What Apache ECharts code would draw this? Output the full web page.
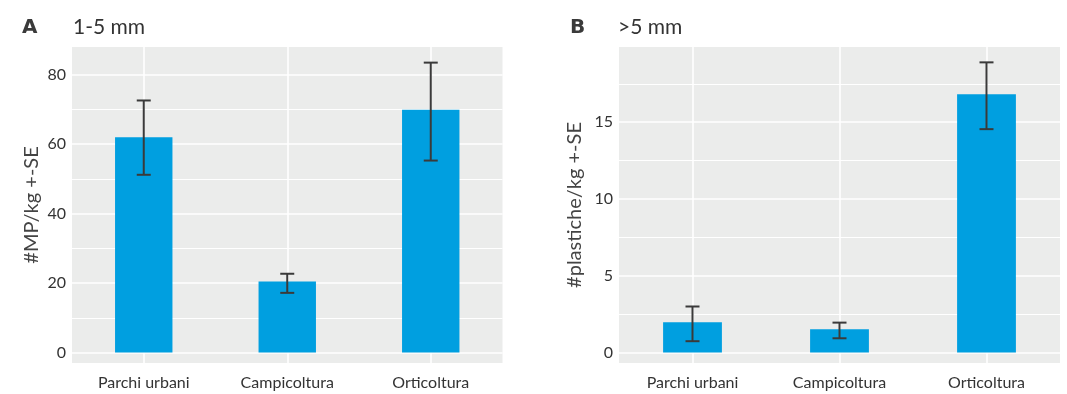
<!DOCTYPE html>
<html>
<head>
<meta charset="utf-8">
<script src="https://cdn.jsdelivr.net/npm/echarts@6/dist/echarts.min.js"></script>
<style>
html,body{margin:0;padding:0;background:#fff;}
#chart{width:1067px;height:394px;}
</style>
</head>
<body>
<div id="chart"></div>
<script>
const categories = ['Parchi urbani', 'Campicoltura', 'Orticoltura'];

const meanA = [62.0, 20.5, 69.9];
const lowA = [51.2, 17.2, 55.3];
const highA = [72.6, 22.7, 83.5];

const meanB = [1.97, 1.52, 16.83];
const lowB = [0.74, 0.93, 14.55];
const highB = [3.0, 1.95, 18.9];

const FONT = 'Lato';
const BAR = '#009FE0';
const PANEL = '#EBECEB';
const ERR = '#3A3A3A';

function errData(low, high) {
  return categories.map((c, i) => [i, low[i], high[i]]);
}
function renderErr(params, api) {
  const x = api.value(0);
  const top = api.coord([x, api.value(2)]);
  const bot = api.coord([x, api.value(1)]);
  const hw = 7;
  const style = { stroke: ERR, lineWidth: 2, fill: null };
  return {
    type: 'group',
    children: [
      { type: 'line', shape: { x1: top[0], y1: top[1], x2: bot[0], y2: bot[1] }, style },
      { type: 'line', shape: { x1: top[0] - hw, y1: top[1], x2: top[0] + hw, y2: top[1] }, style },
      { type: 'line', shape: { x1: bot[0] - hw, y1: bot[1], x2: bot[0] + hw, y2: bot[1] }, style }
    ]
  };
}
function xAxis(gi) {
  return {
    type: 'category', gridIndex: gi, data: categories,
    axisLine: { show: false }, axisTick: { show: false, alignWithLabel: true },
    axisLabel: { color: '#333', fontFamily: FONT, fontSize: 16, margin: 12 },
    splitLine: { show: true, alignWithLabel: true, lineStyle: { color: '#fff', width: 1.6 } }
  };
}
function yAxis(gi, min, max, step, name, gap) {
  return {
    type: 'value', gridIndex: gi, min, max, splitNumber: 5,
    name, nameLocation: 'middle', nameGap: gap,
    nameTextStyle: { color: '#444', fontFamily: FONT, fontSize: 20 },
    axisLine: { show: false }, axisTick: { show: false },
    axisLabel: { color: '#333', fontFamily: FONT, fontSize: 16, margin: 6,
      formatter: v => (Math.abs(v / step - Math.round(v / step)) < 1e-6 ? String(v) : '') },
    splitLine: { show: true, showMinLine: false, showMaxLine: false, lineStyle: { color: '#fff', width: 1.6 } },
    minorTick: { show: false, splitNumber: 2 },
    minorSplitLine: { show: true, lineStyle: { color: '#fff', width: 1 } }
  };
}

const chart = echarts.init(document.getElementById('chart'), null, { renderer: 'canvas' });
chart.setOption({
  animation: false,
  backgroundColor: '#fff',
  title: [
    { text: 'A', left: 17, top: 13, textStyle: { fontFamily: 'DejaVu Sans', fontWeight: 'bold', fontSize: 20, color: '#3a3a3a' } },
    { text: '1-5 mm', left: 68, top: 12, textStyle: { fontFamily: FONT, fontWeight: 'normal', fontSize: 21, color: '#333' } },
    { text: 'B', left: 565, top: 13, textStyle: { fontFamily: 'DejaVu Sans', fontWeight: 'bold', fontSize: 20, color: '#3a3a3a' } },
    { text: '>5 mm', left: 613, top: 12, textStyle: { fontFamily: FONT, fontWeight: 'normal', fontSize: 21, color: '#333' } }
  ],
  grid: [
    { left: 72, right: 564.5, top: 47, bottom: 31, show: true, backgroundColor: PANEL, borderWidth: 0 },
    { left: 619, right: 7, top: 47, bottom: 31, show: true, backgroundColor: PANEL, borderWidth: 0 }
  ],
  xAxis: [xAxis(0), xAxis(1)],
  yAxis: [
    yAxis(0, -3.0, 88.0, 20, '#MP/kg +-SE', 30),
    yAxis(1, -0.68, 19.9, 5, '#plastiche/kg +-SE', 34)
  ],
  series: [
    { type: 'bar', xAxisIndex: 0, yAxisIndex: 0, data: meanA, barWidth: '40%', itemStyle: { color: BAR }, z: 2 },
    { type: 'custom', xAxisIndex: 0, yAxisIndex: 0, data: errData(lowA, highA), renderItem: renderErr, z: 3 },
    { type: 'bar', xAxisIndex: 1, yAxisIndex: 1, data: meanB, barWidth: '40%', itemStyle: { color: BAR }, z: 2 },
    { type: 'custom', xAxisIndex: 1, yAxisIndex: 1, data: errData(lowB, highB), renderItem: renderErr, z: 3 }
  ]
});
</script>
</body>
</html>
